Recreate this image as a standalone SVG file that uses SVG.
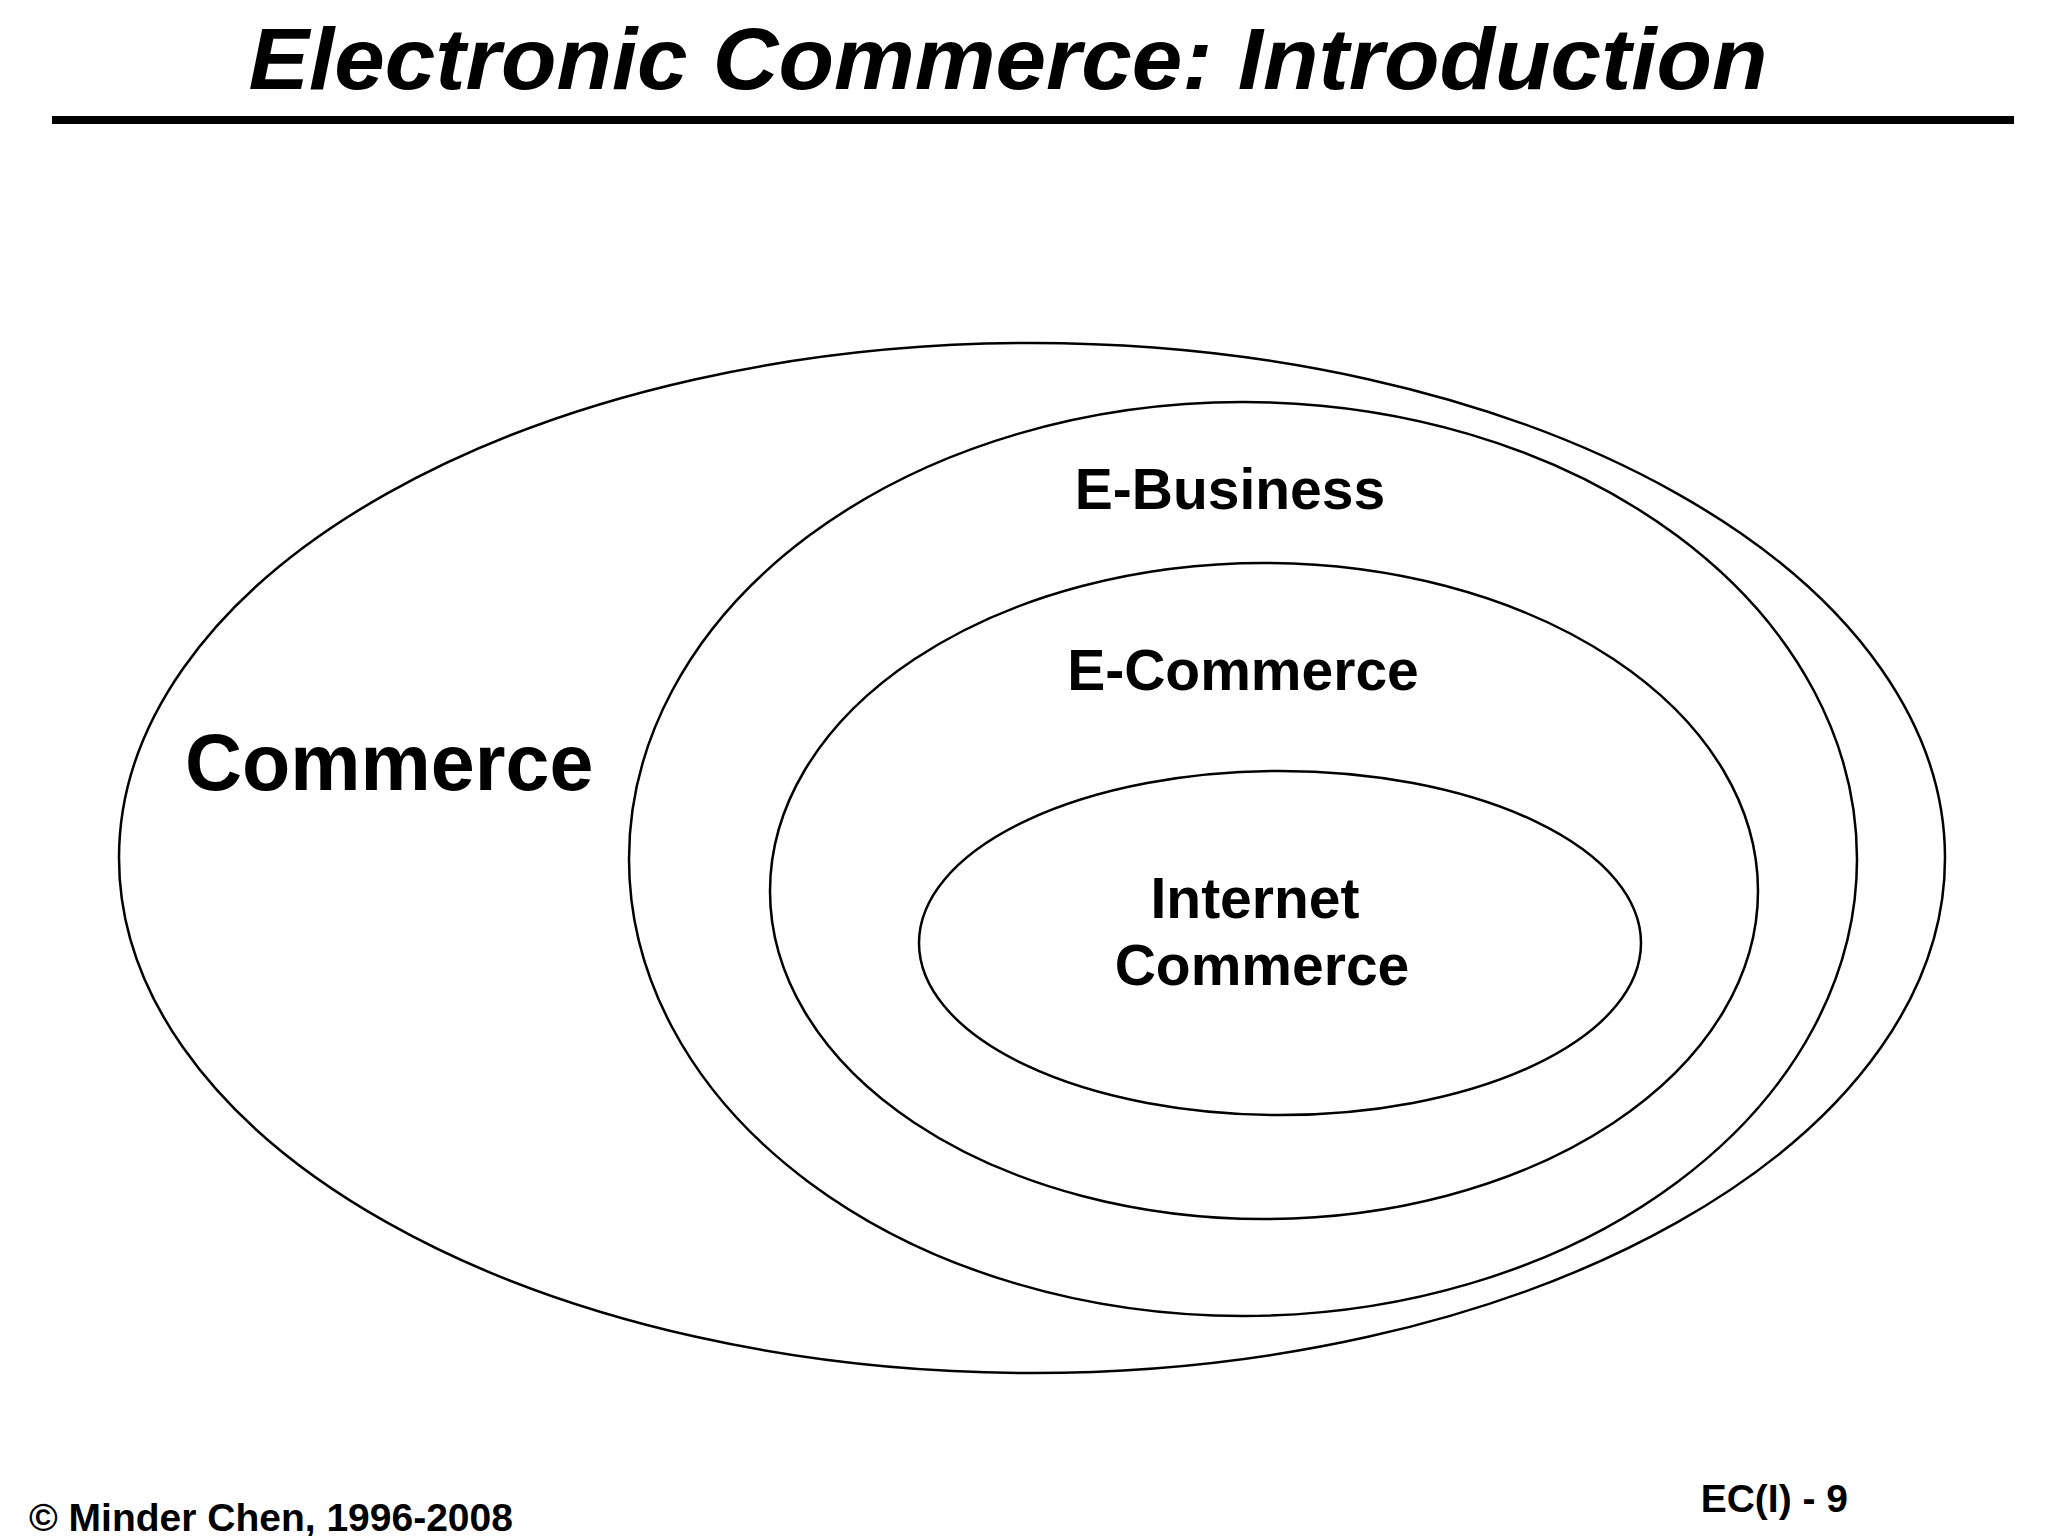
<svg xmlns="http://www.w3.org/2000/svg" width="2048" height="1536" viewBox="0 0 2048 1536">
<style>
.e{fill:none;stroke:#000;stroke-width:2.5}
text{font-family:"Liberation Sans",Arial,sans-serif;font-weight:bold;fill:#000}
.l{font-size:57px;text-anchor:middle}
</style>
<rect width="2048" height="1536" fill="#fff"/>
<text x="1008" y="89" font-size="88" font-style="italic" text-anchor="middle" textLength="1519" lengthAdjust="spacingAndGlyphs">Electronic Commerce: Introduction</text>
<rect x="52" y="116" width="1962" height="8" fill="#000"/>
<g id="commerce"><ellipse class="e" cx="1032" cy="858" rx="913" ry="515"/><text x="185" y="790" font-size="79">Commerce</text></g>
<g id="ebusiness"><ellipse class="e" cx="1243" cy="859" rx="614" ry="457"/><text class="l" x="1230" y="509">E-Business</text></g>
<g id="ecommerce"><ellipse class="e" cx="1264" cy="891" rx="494" ry="328"/><text class="l" x="1243" y="690">E-Commerce</text></g>
<g id="internet"><ellipse class="e" cx="1280" cy="943" rx="361" ry="172"/><text class="l" x="1255" y="918">Internet</text><text class="l" x="1262" y="985">Commerce</text></g>
<g id="connectors"/>
<text x="29" y="1531" font-size="39">© Minder Chen, 1996-2008</text>
<text x="1848" y="1512" font-size="39" text-anchor="end">EC(I) - 9</text>
</svg>
